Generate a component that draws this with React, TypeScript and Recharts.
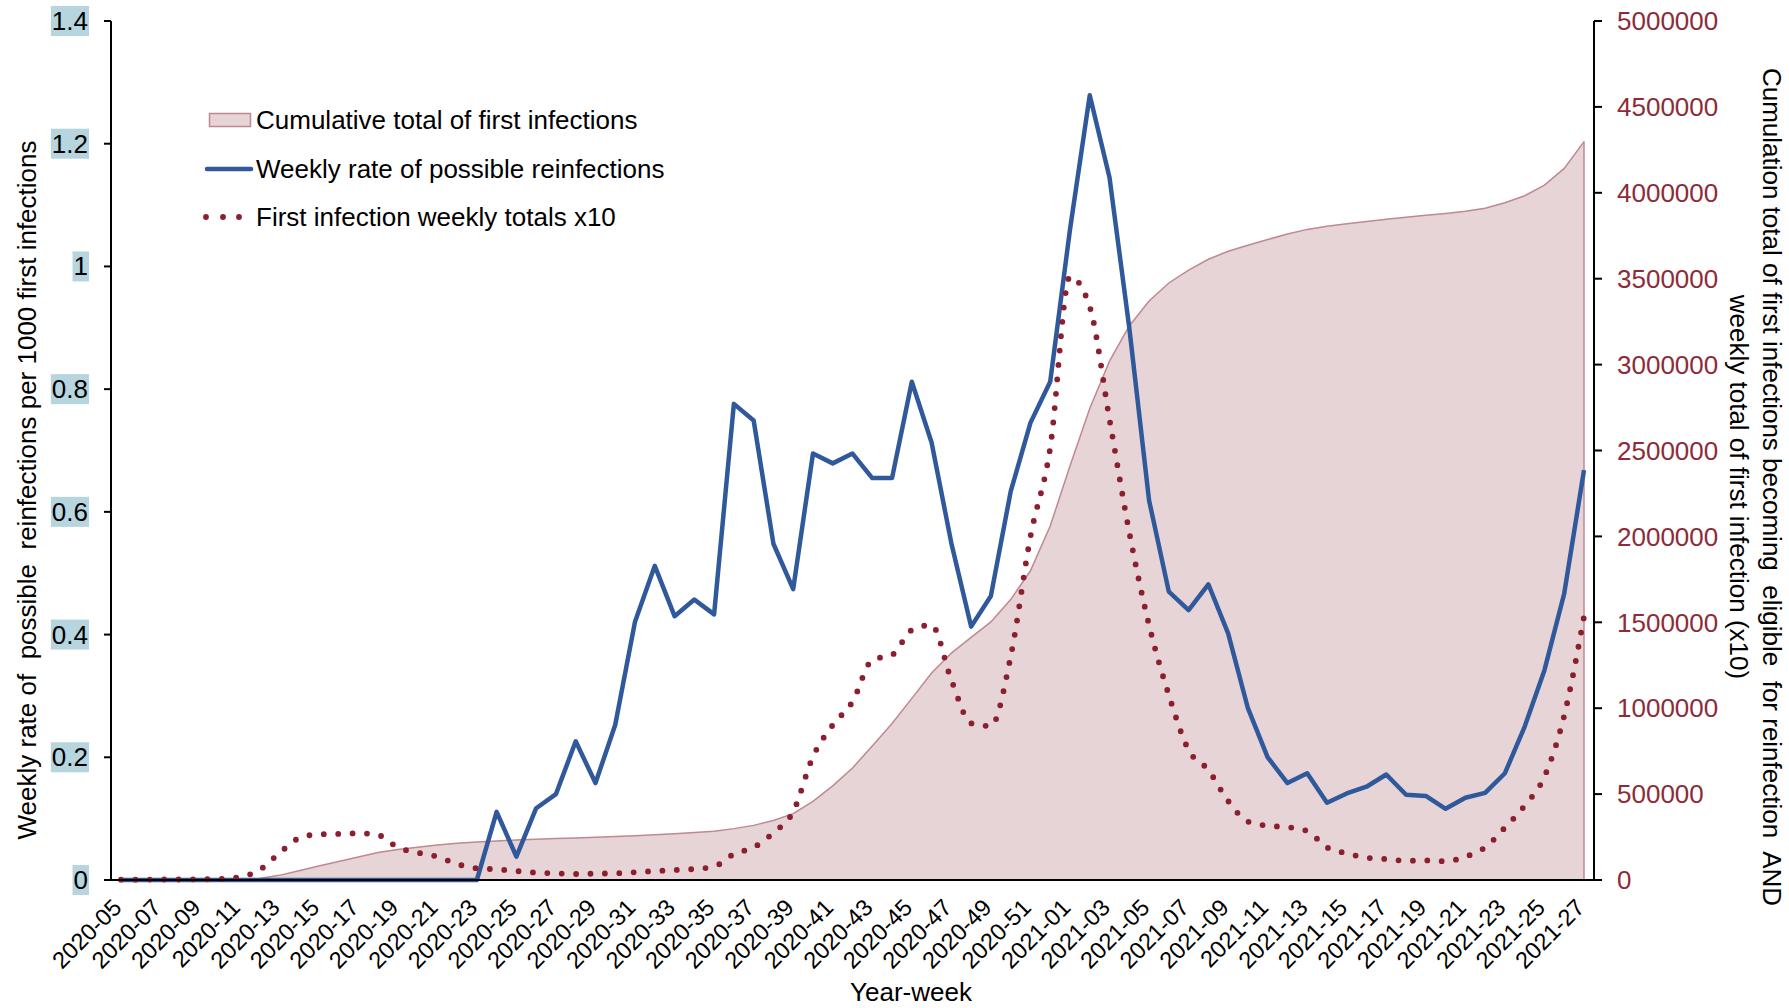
import {
  Area,
  ComposedChart,
  Legend,
  Line,
  ReferenceLine,
  XAxis,
  YAxis,
} from "recharts";

const weeks = [
  "2020-05", "2020-06", "2020-07", "2020-08", "2020-09", "2020-10", "2020-11", "2020-12",
  "2020-13", "2020-14", "2020-15", "2020-16", "2020-17", "2020-18", "2020-19", "2020-20",
  "2020-21", "2020-22", "2020-23", "2020-24", "2020-25", "2020-26", "2020-27", "2020-28",
  "2020-29", "2020-30", "2020-31", "2020-32", "2020-33", "2020-34", "2020-35", "2020-36",
  "2020-37", "2020-38", "2020-39", "2020-40", "2020-41", "2020-42", "2020-43", "2020-44",
  "2020-45", "2020-46", "2020-47", "2020-48", "2020-49", "2020-50", "2020-51", "2020-52",
  "2021-01", "2021-02", "2021-03", "2021-04", "2021-05", "2021-06", "2021-07", "2021-08",
  "2021-09", "2021-10", "2021-11", "2021-12", "2021-13", "2021-14", "2021-15", "2021-16",
  "2021-17", "2021-18", "2021-19", "2021-20", "2021-21", "2021-22", "2021-23", "2021-24",
  "2021-25", "2021-26", "2021-27",
];

// weekly rate of possible reinfections per 1000 first infections (left axis)
const reinfectionRate = [
  0, 0, 0, 0, 0, 0, 0, 0, 0, 0, 0, 0, 0, 0, 0, 0, 0, 0, 0, 0.111,
  0.038, 0.117, 0.14, 0.226, 0.158, 0.253, 0.421, 0.512, 0.43, 0.457,
  0.433, 0.776, 0.749, 0.548, 0.474, 0.695, 0.679, 0.695, 0.655, 0.655,
  0.812, 0.713, 0.549, 0.413, 0.463, 0.633, 0.745, 0.812, 1.06, 1.279,
  1.145, 0.9, 0.619, 0.47, 0.44, 0.482, 0.402, 0.28, 0.2, 0.158,
  0.174, 0.126, 0.141, 0.152, 0.172, 0.139, 0.137, 0.116, 0.134, 0.142,
  0.174, 0.25, 0.342, 0.467, 0.668,
];

// first infection weekly totals x10 (right axis)
const weeklyTotalsX10 = [
  2000, 2000, 3000, 3000, 4000, 6000, 17000, 58000, 155000, 243000,
  266000, 268000, 272000, 262000, 190000, 159000, 136000, 93000, 68000, 62000,
  52000, 43000, 39000, 35000, 37000, 39000, 45000, 52000, 58000, 64000,
  78000, 151000, 190000, 275000, 398000, 718000, 902000, 1038000, 1281000, 1310000,
  1455000, 1484000, 1164000, 912000, 896000, 1300000, 1998000, 2515000, 3512000, 3337000,
  2682000, 2024000, 1484000, 1077000, 757000, 640000, 460000, 340000, 316000, 308000,
  285000, 190000, 155000, 130000, 122000, 112000, 114000, 109000, 136000, 190000,
  305000, 433000, 602000, 958000, 1533000,
];

// cumulative total of first infections (right axis)
const cumulativeTotal = [
  0, 0, 0, 1000, 1000, 2000, 4000, 9000, 27000, 54000,
  82000, 108000, 134000, 160000, 178000, 191000, 204000, 214000, 221000, 227000,
  233000, 237000, 241000, 245000, 249000, 253000, 258000, 263000, 269000, 276000,
  284000, 299000, 318000, 346000, 386000, 458000, 548000, 652000, 780000, 911000,
  1057000, 1205000, 1321000, 1412000, 1502000, 1632000, 1800000, 2060000, 2410000, 2745000,
  3020000, 3225000, 3370000, 3475000, 3550000, 3613000, 3660000, 3695000, 3728000, 3760000,
  3787000, 3805000, 3820000, 3833000, 3846000, 3857000, 3869000, 3880000, 3893000, 3910000,
  3942000, 3983000, 4045000, 4142000, 4298000,
];

const leftTicks = [0, 0.2, 0.4, 0.6, 0.8, 1, 1.2, 1.4];
const rightTicks = [
  0, 500000, 1000000, 1500000, 2000000, 2500000, 3000000, 3500000, 4000000, 4500000, 5000000,
];

const legendLabels = [
  "Cumulative total of first infections",
  "Weekly rate of possible reinfections",
  "First infection weekly totals x10",
];

const data = weeks.map((week, i) => ({
  week,
  rate: reinfectionRate[i],
  weekly: weeklyTotalsX10[i],
  cumulative: cumulativeTotal[i],
}));

const FONT = "'Liberation Sans', Arial, sans-serif";
const BLUE = "#30599b";
const DARK_RED = "#8b1f30";
const AXIS_RED = "#8e2b38";
const AREA_FILL = "#e6d4d7";
const AREA_STROKE = "#c08890";

function approxWidth(s: string, size: number) {
  let w = 0;
  for (const ch of s) w += ch === "." ? 0.278 : 0.556;
  return w * size;
}

function LeftTick({ x, y, payload }: any) {
  const label = String(payload.value);
  const w = approxWidth(label, 26);
  return (
    <g>
      <rect x={x - w - 1} y={y - 15} width={w + 2} height={30} fill="#b7d5df" />
      <text x={x} y={y} dy={9} textAnchor="end" fontSize={26} fontFamily={FONT} fill="#000">
        {label}
      </text>
    </g>
  );
}

function WeekTick({ x, y, payload }: any) {
  const px = x + 2;
  const py = y + 29;
  return (
    <text
      x={px}
      y={py}
      textAnchor="end"
      fontSize={23.5}
      fontFamily={FONT}
      fill="#000"
      transform={`rotate(-45, ${px}, ${py})`}
    >
      {payload.value}
    </text>
  );
}

function LegendBox() {
  return (
    <div style={{ fontFamily: FONT, fontSize: 26, color: "#000" }}>
      {legendLabels.map((label, i) => (
        <div key={label} style={{ display: "flex", alignItems: "center", height: 48.5 }}>
          <svg width={56} height={20} style={{ display: "block" }}>
            {i === 0 && (
              <rect x={9.5} y={3.5} width={41} height={13} fill={AREA_FILL} stroke={AREA_STROKE} strokeWidth={1.5} />
            )}
            {i === 1 && <line x1={7} y1={10} x2={51} y2={10} stroke={BLUE} strokeWidth={4.5} strokeLinecap="round" />}
            {i === 2 &&
              [6, 23, 39].map((cx) => <circle key={cx} cx={cx} cy={10} r={2.9} fill={DARK_RED} />)}
          </svg>
          <span style={{ whiteSpace: "nowrap", lineHeight: 1 }}>{label}</span>
        </div>
      ))}
    </div>
  );
}

export default function App() {
  const last = data[data.length - 1];
  return (
    <div style={{ position: "absolute", left: 0, top: 0, width: 1789, height: 1008, background: "#fff" }}>
      <ComposedChart
        width={1789}
        height={1008}
        data={data}
        margin={{ top: 21, right: 45, bottom: 0, left: 11 }}
      >
        <XAxis
          dataKey="week"
          interval={1}
          height={128}
          padding={{ left: 10, right: 10 }}
          tickLine={false}
          tickSize={0}
          tickMargin={0}
          tick={<WeekTick />}
          axisLine={{ stroke: "#000", strokeWidth: 2 }}
        />
        <YAxis
          yAxisId="left"
          width={100}
          domain={[0, 1.4]}
          ticks={leftTicks}
          tickSize={7}
          tickMargin={16}
          tick={<LeftTick />}
          axisLine={{ stroke: "#000", strokeWidth: 2 }}
          tickLine={{ stroke: "#000", strokeWidth: 2 }}
        />
        <YAxis
          yAxisId="right"
          orientation="right"
          width={150}
          domain={[0, 5000000]}
          ticks={rightTicks}
          tickSize={8}
          tickMargin={15}
          tick={{ fill: AXIS_RED, fontSize: 26, fontFamily: FONT }}
          axisLine={{ stroke: "#000", strokeWidth: 2 }}
          tickLine={{ stroke: "#000", strokeWidth: 2 }}
        />
        <Legend
          content={<LegendBox />}
          layout="vertical"
          align="center"
          verticalAlign="middle"
          wrapperStyle={{ left: 200, top: 96, width: 480 }}
        />
        <Area
          yAxisId="right"
          dataKey="cumulative"
          type="linear"
          fill={AREA_FILL}
          fillOpacity={1}
          stroke={AREA_STROKE}
          strokeWidth={1.5}
          isAnimationActive={false}
          activeDot={false}
        />
        <ReferenceLine
          yAxisId="right"
          segment={[
            { x: last.week, y: 0 },
            { x: last.week, y: last.cumulative },
          ]}
          stroke={AREA_STROKE}
          strokeWidth={1.5}
        />
        <Line
          yAxisId="left"
          dataKey="rate"
          type="linear"
          stroke={BLUE}
          strokeWidth={4.5}
          strokeLinejoin="round"
          dot={false}
          activeDot={false}
          isAnimationActive={false}
        />
        <Line
          yAxisId="right"
          dataKey="weekly"
          type="monotone"
          stroke={DARK_RED}
          strokeWidth={5.8}
          strokeDasharray="0 14.4"
          strokeLinecap="round"
          dot={false}
          activeDot={false}
          isAnimationActive={false}
        />
      </ComposedChart>

      <div
        style={{
          position: "absolute",
          left: 27,
          top: 490,
          transform: "translate(-50%, -50%) rotate(-90deg)",
          fontFamily: FONT,
          fontSize: 26,
          lineHeight: 1,
          whiteSpace: "pre",
        }}
      >
        {"Weekly rate of  possible  reinfections per 1000 first infections"}
      </div>
      <div
        style={{
          position: "absolute",
          left: 1754.5,
          top: 487,
          transform: "translate(-50%, -50%) rotate(90deg)",
          fontFamily: FONT,
          fontSize: 26,
          lineHeight: "33px",
          whiteSpace: "pre",
          textAlign: "center",
        }}
      >
        {"Cumulation total of first infections becoming  eligible  for reinfection  AND\nweekly total of first infection (x10)"}
      </div>
      <div
        style={{
          position: "absolute",
          left: 911,
          top: 992,
          transform: "translate(-50%, -50%)",
          fontFamily: FONT,
          fontSize: 26,
          lineHeight: 1,
          whiteSpace: "nowrap",
        }}
      >
        Year-week
      </div>
    </div>
  );
}
